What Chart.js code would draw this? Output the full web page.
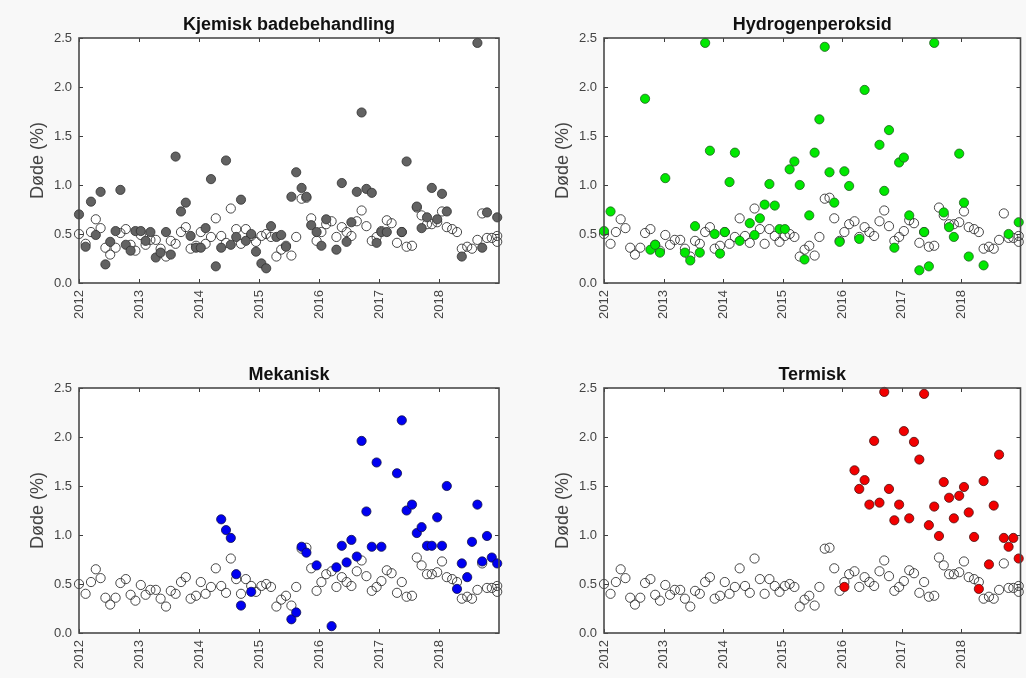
<!DOCTYPE html>
<html>
<head>
<meta charset="utf-8">
<script src="https://cdn.jsdelivr.net/npm/chart.js@4.4.0/dist/chart.umd.min.js"></script>
<style>
html,body{margin:0;padding:0;background:#f8f8f8;}
#wrap{position:relative;width:1026px;height:678px;overflow:hidden;background:#f8f8f8;}
canvas{position:absolute;}
</style>
</head>
<body>
<div id="wrap">
<canvas id="c1" width="513" height="339" style="left:0;top:0;width:513px;height:339px"></canvas>
<canvas id="c2" width="513" height="339" style="left:513px;top:0;width:513px;height:339px"></canvas>
<canvas id="c3" width="513" height="339" style="left:0;top:339px;width:513px;height:339px"></canvas>
<canvas id="c4" width="513" height="339" style="left:513px;top:339px;width:513px;height:339px"></canvas>
</div>
<script>
// ---------------- DATA ----------------
const xTickYears = [2012, 2013, 2014, 2015, 2016, 2017, 2018];
const yTickValues = [0.0, 0.5, 1.0, 1.5, 2.0, 2.5];
const yAxisLabel = 'Døde (%)';
const panelTitles = ['Kjemisk badebehandling', 'Hydrogenperoksid', 'Mekanisk', 'Termisk'];

// reference (untreated) mortality, same in all four panels
const baselineX = [2012.00,2012.11,2012.20,2012.28,2012.36,2012.44,2012.52,2012.61,2012.69,2012.78,2012.86,2012.94,
  2013.03,2013.11,2013.19,2013.28,2013.36,2013.45,2013.53,2013.61,2013.70,2013.78,2013.86,2013.95,
  2014.03,2014.11,2014.20,2014.28,2014.37,2014.45,2014.53,2014.62,2014.70,2014.78,2014.87,2014.95,
  2015.04,2015.12,2015.20,2015.29,2015.37,2015.45,2015.54,2015.62,2015.71,2015.79,2015.87,2015.96,
  2016.04,2016.12,2016.21,2016.29,2016.38,2016.46,2016.54,2016.63,2016.71,2016.79,2016.88,2016.96,
  2017.04,2017.13,2017.21,2017.30,2017.38,2017.46,2017.55,2017.63,2017.71,2017.80,2017.88,2017.97,
  2018.05,2018.13,2018.22,2018.30,2018.38,2018.47,2018.55,2018.64,2018.72,2018.80,2018.88,2018.97,2018.97];
const baselineY = [0.50,0.40,0.52,0.65,0.56,0.36,0.29,0.36,0.51,0.55,0.39,0.33,
  0.49,0.39,0.44,0.44,0.35,0.27,0.43,0.40,0.52,0.57,0.35,0.38,
  0.52,0.40,0.47,0.66,0.48,0.41,0.76,0.55,0.40,0.55,0.48,0.42,
  0.48,0.50,0.47,0.27,0.34,0.38,0.28,0.47,0.86,0.87,0.66,0.43,
  0.52,0.60,0.63,0.47,0.57,0.52,0.48,0.63,0.74,0.58,0.43,0.47,
  0.53,0.64,0.61,0.41,0.52,0.37,0.38,0.77,0.69,0.60,0.60,0.62,
  0.73,0.57,0.55,0.52,0.35,0.37,0.35,0.44,0.71,0.46,0.46,0.48,0.42];

const kjemiskX = [2012.00,2012.11,2012.20,2012.28,2012.36,2012.44,2012.52,2012.61,2012.69,2012.78,2012.86,2012.94,
  2013.03,2013.11,2013.19,2013.28,2013.36,2013.45,2013.53,2013.61,2013.70,2013.78,2013.86,2013.95,
  2014.03,2014.11,2014.20,2014.28,2014.37,2014.45,2014.53,2014.62,2014.70,2014.78,2014.87,2014.95,
  2015.04,2015.12,2015.20,2015.29,2015.37,2015.45,2015.54,2015.62,2015.71,2015.79,2015.87,2015.96,
  2016.04,2016.12,2016.29,2016.38,2016.46,2016.54,2016.63,2016.71,2016.79,2016.88,2016.96,
  2017.04,2017.13,2017.38,2017.46,2017.63,2017.71,2017.80,2017.88,2017.97,
  2018.05,2018.13,2018.38,2018.64,2018.72,2018.80,2018.97];
const kjemiskY = [0.70,0.37,0.83,0.49,0.93,0.19,0.42,0.53,0.95,0.39,0.33,0.53,
  0.53,0.43,0.52,0.26,0.31,0.52,0.29,1.29,0.73,0.82,0.48,0.36,
  0.36,0.56,1.06,0.17,0.36,1.25,0.39,0.47,0.85,0.43,0.50,0.32,
  0.20,0.15,0.58,0.47,0.49,0.37,0.88,1.13,0.97,0.88,0.59,0.52,
  0.38,0.65,0.34,1.02,0.42,0.62,0.93,1.74,0.96,0.92,0.41,
  0.52,0.52,0.52,1.24,0.78,0.56,0.67,0.97,0.65,
  0.91,0.73,0.27,2.45,0.36,0.72,0.67];

const hydroX = [2012.00,2012.11,2012.69,2012.78,2012.86,2012.94,2013.03,2013.36,2013.45,2013.53,2013.61,2013.70,2013.78,2013.86,2013.95,
  2014.03,2014.11,2014.20,2014.28,2014.45,2014.53,2014.62,2014.70,2014.78,2014.87,2014.95,
  2015.04,2015.12,2015.20,2015.29,2015.37,2015.45,2015.54,2015.62,2015.71,2015.79,2015.87,2015.96,
  2016.04,2016.12,2016.29,2016.38,2016.63,2016.71,2016.79,2016.88,2016.96,
  2017.04,2017.13,2017.30,2017.38,2017.46,2017.55,2017.71,2017.80,2017.88,2017.97,
  2018.05,2018.13,2018.38,2018.80,2018.97];
const hydroY = [0.53,0.73,1.88,0.34,0.39,0.31,1.07,0.31,0.23,0.58,0.31,2.45,1.35,0.50,0.30,
  0.52,1.03,1.33,0.43,0.61,0.49,0.66,0.80,1.01,0.79,0.55,
  0.55,1.16,1.24,1.00,0.24,0.69,1.33,1.67,2.41,1.13,0.82,0.42,
  1.14,0.99,0.45,1.97,1.41,0.94,1.56,0.36,1.23,
  1.28,0.69,0.13,0.52,0.17,2.45,0.72,0.57,0.47,1.32,
  0.82,0.27,0.18,0.50,0.62];

const mekaniskX = [2014.37,2014.45,2014.53,2014.62,2014.70,2014.87,
  2015.54,2015.62,2015.71,2015.79,2015.96,
  2016.21,2016.29,2016.38,2016.46,2016.54,2016.63,2016.71,2016.79,2016.88,2016.96,
  2017.04,2017.30,2017.38,2017.46,2017.55,2017.63,2017.71,2017.80,2017.88,2017.97,
  2018.05,2018.13,2018.30,2018.38,2018.47,2018.55,2018.64,2018.72,2018.80,2018.88,2018.97];
const mekaniskY = [1.16,1.05,0.97,0.60,0.28,0.42,
  0.14,0.21,0.88,0.82,0.69,
  0.07,0.67,0.89,0.72,0.95,0.78,1.96,1.24,0.88,1.74,
  0.88,1.63,2.17,1.25,1.31,1.02,1.08,0.89,0.89,1.18,
  0.89,1.50,0.45,0.71,0.57,0.93,1.31,0.73,0.99,0.77,0.71];

const termiskX = [2016.04,2016.21,2016.29,2016.38,2016.46,2016.54,2016.63,2016.71,2016.79,2016.88,2016.96,
  2017.04,2017.13,2017.21,2017.30,2017.38,2017.46,2017.55,2017.63,2017.71,2017.80,2017.88,2017.97,
  2018.05,2018.13,2018.22,2018.30,2018.38,2018.47,2018.55,2018.64,2018.72,2018.80,2018.88,2018.97];
const termiskY = [0.47,1.66,1.47,1.56,1.31,1.96,1.33,2.46,1.47,1.15,1.31,
  2.06,1.17,1.95,1.77,2.44,1.10,1.29,0.99,1.54,1.38,1.17,1.40,
  1.49,1.23,0.98,0.45,1.55,0.70,1.30,1.82,0.97,0.88,0.97,0.76];

// ---------------- STYLE / LAYOUT ----------------
const FONT = '"Liberation Sans", Arial, Helvetica, sans-serif';
const toPts = (xs, ys) => xs.map((x, i) => ({x: x, y: ys[i]}));

const panels = [
  {id: 'c1', title: panelTitles[0], xs: kjemiskX, ys: kjemiskY, fill: '#626262', edge: '#303030',
   area: {l: 79, r: 499, t: 38, b: 283}, titleCenter: 25, yTitleCenter: 38},
  {id: 'c2', title: panelTitles[1], xs: hydroX, ys: hydroY, fill: '#00e800', edge: '#1f5f1f',
   area: {l: 91, r: 510, t: 38, b: 283}, titleCenter: 25, yTitleCenter: 50},
  {id: 'c3', title: panelTitles[2], xs: mekaniskX, ys: mekaniskY, fill: '#0000f2', edge: '#10104a',
   area: {l: 79, r: 499, t: 49, b: 294}, titleCenter: 36, yTitleCenter: 38},
  {id: 'c4', title: panelTitles[3], xs: termiskX, ys: termiskY, fill: '#f20000', edge: '#4a1010',
   area: {l: 91, r: 510, t: 49, b: 294}, titleCenter: 36, yTitleCenter: 50}
];

const frameTicks = {
  id: 'frameTicks',
  beforeDatasetsDraw(chart) {
    const {ctx, chartArea: a} = chart;
    ctx.save();
    ctx.fillStyle = '#ffffff';
    ctx.fillRect(a.left, a.top, a.right - a.left, a.bottom - a.top);
    ctx.restore();
  },
  afterDraw(chart) {
    const {ctx, chartArea: a, scales} = chart;
    ctx.save();
    ctx.strokeStyle = '#3c3c3c';
    ctx.lineWidth = 1;
    ctx.beginPath();
    xTickYears.forEach(v => {
      const px = Math.round(scales.x.getPixelForValue(v)) + 0.5;
      ctx.moveTo(px, a.bottom); ctx.lineTo(px, a.bottom - 4);
      ctx.moveTo(px, a.top); ctx.lineTo(px, a.top + 4);
    });
    yTickValues.forEach(v => {
      const py = Math.round(scales.y.getPixelForValue(v)) + 0.5;
      ctx.moveTo(a.left, py); ctx.lineTo(a.left + 4, py);
      ctx.moveTo(a.right, py); ctx.lineTo(a.right - 4, py);
    });
    ctx.stroke();
    ctx.strokeStyle = '#4a4a4a';
    ctx.lineWidth = 1.6;
    ctx.strokeRect(a.left, a.top, a.right - a.left, a.bottom - a.top);
    ctx.restore();
  }
};

panels.forEach(p => {
  const canvas = document.getElementById(p.id);
  const W = 513, H = 339;
  const titleSize = 18;
  const titleLH = 22;
  const titleTop = p.titleCenter - titleLH / 2;
  const ySize = 18;
  const yTitleLH = ySize * 1.2;
  new Chart(canvas, {
    type: 'scatter',
    data: {
      datasets: [
        {
          label: p.title,
          data: toPts(p.xs, p.ys),
          clip: false,
          pointRadius: 4.6,
          pointBorderWidth: 0.8,
          pointBackgroundColor: p.fill,
          pointBorderColor: p.edge,
          pointHoverRadius: 4.6
        },
        {
          label: 'Referanse',
          data: toPts(baselineX, baselineY),
          clip: false,
          pointRadius: 4.6,
          pointBorderWidth: 0.9,
          pointBackgroundColor: 'rgba(255,255,255,0)',
          pointBorderColor: '#333333',
          pointHoverRadius: 4.6
        }
      ]
    },
    options: {
      responsive: false,
      animation: false,
      devicePixelRatio: 1,
      events: [],
      layout: {padding: {left: 0, top: 0, right: W - p.area.r, bottom: 0}},
      plugins: {
        legend: {display: false},
        tooltip: {enabled: false},
        title: {
          display: true,
          fullSize: false,
          text: p.title,
          color: '#111111',
          font: {family: FONT, size: titleSize, weight: 'bold', lineHeight: titleLH / titleSize},
          padding: {top: titleTop, bottom: p.area.t - titleTop - titleLH}
        }
      },
      scales: {
        x: {
          type: 'linear',
          min: 2012, max: 2019,
          grid: {display: false, drawTicks: false},
          border: {display: false},
          afterBuildTicks: s => { s.ticks = xTickYears.map(v => ({value: v})); },
          afterFit: s => { s.height = H - p.area.b; },
          ticks: {
            autoSkip: false,
            minRotation: 90, maxRotation: 90,
            padding: 7,
            color: '#444444',
            font: {family: FONT, size: 13},
            callback: v => String(v)
          }
        },
        y: {
          type: 'linear',
          min: 0, max: 2.5,
          grid: {display: false, drawTicks: false},
          border: {display: false},
          afterBuildTicks: s => { s.ticks = yTickValues.map(v => ({value: v})); },
          afterFit: s => { s.width = p.area.l; },
          ticks: {
            padding: 7,
            color: '#444444',
            font: {family: FONT, size: 13},
            callback: v => Number(v).toFixed(1)
          },
          title: {
            display: true,
            text: yAxisLabel,
            color: '#444444',
            font: {family: FONT, size: ySize},
            padding: {top: p.yTitleCenter - yTitleLH / 2, bottom: 0}
          }
        }
      }
    },
    plugins: [frameTicks]
  });
});
</script>
</body>
</html>
